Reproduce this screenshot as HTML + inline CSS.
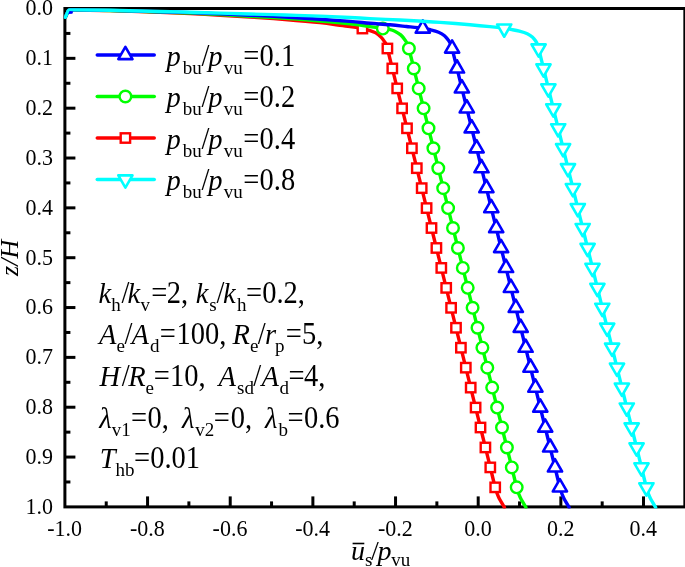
<!DOCTYPE html>
<html><head><meta charset="utf-8"><title>chart</title>
<style>html,body{margin:0;padding:0;background:#fff}body{width:685px;height:567px;overflow:hidden}</style>
</head><body>
<svg width="685" height="567" viewBox="0 0 685 567" style="display:block">
<rect x="0" y="0" width="685" height="567" fill="#fff"/>
<g stroke="#000" stroke-width="3" fill="none" stroke-linecap="butt">
<rect x="64.9" y="8.5" width="619.95" height="498.40"/>
<line x1="106.23" y1="506.9" x2="106.23" y2="501.40"/>
<line x1="147.56" y1="506.9" x2="147.56" y2="496.40"/>
<line x1="188.89" y1="506.9" x2="188.89" y2="501.40"/>
<line x1="230.22" y1="506.9" x2="230.22" y2="496.40"/>
<line x1="271.55" y1="506.9" x2="271.55" y2="501.40"/>
<line x1="312.88" y1="506.9" x2="312.88" y2="496.40"/>
<line x1="354.21" y1="506.9" x2="354.21" y2="501.40"/>
<line x1="395.54" y1="506.9" x2="395.54" y2="496.40"/>
<line x1="436.87" y1="506.9" x2="436.87" y2="501.40"/>
<line x1="478.20" y1="506.9" x2="478.20" y2="496.40"/>
<line x1="519.53" y1="506.9" x2="519.53" y2="501.40"/>
<line x1="560.86" y1="506.9" x2="560.86" y2="496.40"/>
<line x1="602.19" y1="506.9" x2="602.19" y2="501.40"/>
<line x1="643.52" y1="506.9" x2="643.52" y2="496.40"/>
<line x1="64.9" y1="33.42" x2="70.40" y2="33.42"/>
<line x1="64.9" y1="58.34" x2="75.40" y2="58.34"/>
<line x1="64.9" y1="83.26" x2="70.40" y2="83.26"/>
<line x1="64.9" y1="108.18" x2="75.40" y2="108.18"/>
<line x1="64.9" y1="133.10" x2="70.40" y2="133.10"/>
<line x1="64.9" y1="158.02" x2="75.40" y2="158.02"/>
<line x1="64.9" y1="182.94" x2="70.40" y2="182.94"/>
<line x1="64.9" y1="207.86" x2="75.40" y2="207.86"/>
<line x1="64.9" y1="232.78" x2="70.40" y2="232.78"/>
<line x1="64.9" y1="257.70" x2="75.40" y2="257.70"/>
<line x1="64.9" y1="282.62" x2="70.40" y2="282.62"/>
<line x1="64.9" y1="307.54" x2="75.40" y2="307.54"/>
<line x1="64.9" y1="332.46" x2="70.40" y2="332.46"/>
<line x1="64.9" y1="357.38" x2="75.40" y2="357.38"/>
<line x1="64.9" y1="382.30" x2="70.40" y2="382.30"/>
<line x1="64.9" y1="407.22" x2="75.40" y2="407.22"/>
<line x1="64.9" y1="432.14" x2="70.40" y2="432.14"/>
<line x1="64.9" y1="457.06" x2="75.40" y2="457.06"/>
<line x1="64.9" y1="481.98" x2="70.40" y2="481.98"/>
</g>
<g font-family="Liberation Serif, serif" font-size="22" fill="#000">
<text transform="translate(0,15.30) scale(1,1.08)" x="53.0" y="0" text-anchor="end">0.0</text>
<text transform="translate(0,65.14) scale(1,1.08)" x="53.0" y="0" text-anchor="end">0.1</text>
<text transform="translate(0,114.98) scale(1,1.08)" x="53.0" y="0" text-anchor="end">0.2</text>
<text transform="translate(0,164.82) scale(1,1.08)" x="53.0" y="0" text-anchor="end">0.3</text>
<text transform="translate(0,214.66) scale(1,1.08)" x="53.0" y="0" text-anchor="end">0.4</text>
<text transform="translate(0,264.50) scale(1,1.08)" x="53.0" y="0" text-anchor="end">0.5</text>
<text transform="translate(0,314.34) scale(1,1.08)" x="53.0" y="0" text-anchor="end">0.6</text>
<text transform="translate(0,364.18) scale(1,1.08)" x="53.0" y="0" text-anchor="end">0.7</text>
<text transform="translate(0,414.02) scale(1,1.08)" x="53.0" y="0" text-anchor="end">0.8</text>
<text transform="translate(0,463.86) scale(1,1.08)" x="53.0" y="0" text-anchor="end">0.9</text>
<text transform="translate(0,513.70) scale(1,1.08)" x="53.0" y="0" text-anchor="end">1.0</text>
<text transform="translate(0,536.2) scale(1,1.08)" x="64.70" y="0" text-anchor="middle">-1.0</text>
<text transform="translate(0,536.2) scale(1,1.08)" x="147.36" y="0" text-anchor="middle">-0.8</text>
<text transform="translate(0,536.2) scale(1,1.08)" x="230.02" y="0" text-anchor="middle">-0.6</text>
<text transform="translate(0,536.2) scale(1,1.08)" x="312.68" y="0" text-anchor="middle">-0.4</text>
<text transform="translate(0,536.2) scale(1,1.08)" x="395.34" y="0" text-anchor="middle">-0.2</text>
<text transform="translate(0,536.2) scale(1,1.08)" x="478.00" y="0" text-anchor="middle">0.0</text>
<text transform="translate(0,536.2) scale(1,1.08)" x="560.66" y="0" text-anchor="middle">0.2</text>
<text transform="translate(0,536.2) scale(1,1.08)" x="643.32" y="0" text-anchor="middle">0.4</text>
</g>
<defs><clipPath id="pc"><rect x="63.40" y="7.00" width="622.95" height="501.40"/></clipPath></defs>
<g clip-path="url(#pc)">
<path d="M65.30,17.30C65.47,16.93 65.95,15.87 66.30,15.10C66.65,14.33 67.05,13.45 67.40,12.70C67.75,11.95 68.03,11.07 68.40,10.60C68.77,10.13 68.50,10.02 69.60,9.90C70.70,9.78 68.27,9.78 75.00,9.90C81.73,10.02 95.83,10.20 110.00,10.60C124.17,11.00 144.17,11.67 160.00,12.30C175.83,12.93 190.00,13.62 205.00,14.40C220.00,15.18 236.67,16.15 250.00,17.00C263.33,17.85 273.33,18.57 285.00,19.50C296.67,20.43 310.83,21.62 320.00,22.60C329.17,23.58 335.00,24.73 340.00,25.40C345.00,26.07 346.27,26.07 350.00,26.60C353.73,27.13 359.07,27.93 362.40,28.60C365.73,29.27 367.77,29.88 370.00,30.60C372.23,31.32 373.97,31.82 375.80,32.90C377.63,33.98 379.53,35.62 381.00,37.10C382.47,38.58 383.70,40.48 384.60,41.80C385.50,43.12 385.93,43.88 386.40,45.00C386.87,46.12 386.42,44.59 387.40,48.50C388.38,52.40 390.67,61.79 392.30,68.44C393.93,75.09 395.57,81.74 397.20,88.39C398.83,95.04 400.47,101.69 402.10,108.34C403.73,114.99 405.37,121.64 407.00,128.29C408.63,134.94 410.27,141.59 411.90,148.24C413.53,154.89 415.17,161.53 416.80,168.18C418.43,174.83 420.07,181.48 421.70,188.13C423.33,194.78 424.97,201.43 426.60,208.08C428.23,214.73 429.87,221.38 431.50,228.03C433.13,234.68 434.77,241.33 436.40,247.98C438.03,254.63 439.67,261.27 441.30,267.92C442.93,274.57 444.57,281.22 446.20,287.87C447.83,294.52 449.47,301.17 451.10,307.82C452.73,314.47 454.37,321.12 456.00,327.77C457.63,334.42 459.27,341.07 460.90,347.72C462.53,354.37 464.17,361.01 465.80,367.66C467.43,374.31 469.07,380.96 470.70,387.61C472.33,394.26 473.97,400.91 475.60,407.56C477.23,414.21 478.87,420.86 480.50,427.51C482.13,434.16 483.77,440.81 485.40,447.46C487.03,454.11 488.67,460.75 490.30,467.40C491.93,474.05 493.81,482.37 495.20,487.35C496.59,492.34 497.12,494.00 498.65,497.33C500.18,500.65 503.44,505.64 504.40,507.30" fill="none" stroke="#ff0000" stroke-width="3.4" stroke-linecap="round" stroke-linejoin="round"/>
<rect x="357.70" y="23.85" width="9.4" height="9.4" fill="#fff" stroke="#ff0000" stroke-width="2.4"/>
<rect x="382.70" y="43.80" width="9.4" height="9.4" fill="#fff" stroke="#ff0000" stroke-width="2.4"/>
<rect x="387.60" y="63.74" width="9.4" height="9.4" fill="#fff" stroke="#ff0000" stroke-width="2.4"/>
<rect x="392.50" y="83.69" width="9.4" height="9.4" fill="#fff" stroke="#ff0000" stroke-width="2.4"/>
<rect x="397.40" y="103.64" width="9.4" height="9.4" fill="#fff" stroke="#ff0000" stroke-width="2.4"/>
<rect x="402.30" y="123.59" width="9.4" height="9.4" fill="#fff" stroke="#ff0000" stroke-width="2.4"/>
<rect x="407.20" y="143.54" width="9.4" height="9.4" fill="#fff" stroke="#ff0000" stroke-width="2.4"/>
<rect x="412.10" y="163.48" width="9.4" height="9.4" fill="#fff" stroke="#ff0000" stroke-width="2.4"/>
<rect x="417.00" y="183.43" width="9.4" height="9.4" fill="#fff" stroke="#ff0000" stroke-width="2.4"/>
<rect x="421.90" y="203.38" width="9.4" height="9.4" fill="#fff" stroke="#ff0000" stroke-width="2.4"/>
<rect x="426.80" y="223.33" width="9.4" height="9.4" fill="#fff" stroke="#ff0000" stroke-width="2.4"/>
<rect x="431.70" y="243.28" width="9.4" height="9.4" fill="#fff" stroke="#ff0000" stroke-width="2.4"/>
<rect x="436.60" y="263.22" width="9.4" height="9.4" fill="#fff" stroke="#ff0000" stroke-width="2.4"/>
<rect x="441.50" y="283.17" width="9.4" height="9.4" fill="#fff" stroke="#ff0000" stroke-width="2.4"/>
<rect x="446.40" y="303.12" width="9.4" height="9.4" fill="#fff" stroke="#ff0000" stroke-width="2.4"/>
<rect x="451.30" y="323.07" width="9.4" height="9.4" fill="#fff" stroke="#ff0000" stroke-width="2.4"/>
<rect x="456.20" y="343.02" width="9.4" height="9.4" fill="#fff" stroke="#ff0000" stroke-width="2.4"/>
<rect x="461.10" y="362.96" width="9.4" height="9.4" fill="#fff" stroke="#ff0000" stroke-width="2.4"/>
<rect x="466.00" y="382.91" width="9.4" height="9.4" fill="#fff" stroke="#ff0000" stroke-width="2.4"/>
<rect x="470.90" y="402.86" width="9.4" height="9.4" fill="#fff" stroke="#ff0000" stroke-width="2.4"/>
<rect x="475.80" y="422.81" width="9.4" height="9.4" fill="#fff" stroke="#ff0000" stroke-width="2.4"/>
<rect x="480.70" y="442.76" width="9.4" height="9.4" fill="#fff" stroke="#ff0000" stroke-width="2.4"/>
<rect x="485.60" y="462.70" width="9.4" height="9.4" fill="#fff" stroke="#ff0000" stroke-width="2.4"/>
<rect x="490.50" y="482.65" width="9.4" height="9.4" fill="#fff" stroke="#ff0000" stroke-width="2.4"/>
<path d="M65.30,17.30C65.47,16.93 65.95,15.87 66.30,15.10C66.65,14.33 67.05,13.45 67.40,12.70C67.75,11.95 68.03,11.07 68.40,10.60C68.77,10.13 68.50,10.02 69.60,9.90C70.70,9.78 68.27,9.80 75.00,9.90C81.73,10.00 95.83,10.15 110.00,10.50C124.17,10.85 144.17,11.45 160.00,12.00C175.83,12.55 190.00,13.10 205.00,13.80C220.00,14.50 236.67,15.45 250.00,16.20C263.33,16.95 273.33,17.50 285.00,18.30C296.67,19.10 309.17,20.08 320.00,21.00C330.83,21.92 341.67,22.87 350.00,23.80C358.33,24.73 364.53,25.83 370.00,26.60C375.47,27.37 379.63,27.93 382.80,28.40C385.97,28.87 387.00,28.93 389.00,29.40C391.00,29.87 392.85,30.28 394.80,31.20C396.75,32.12 399.00,33.43 400.70,34.90C402.40,36.37 403.85,38.42 405.00,40.00C406.15,41.58 406.95,42.98 407.60,44.40C408.25,45.82 407.87,44.49 408.90,48.50C409.93,52.50 412.17,61.79 413.80,68.44C415.43,75.09 417.07,81.74 418.70,88.39C420.33,95.04 421.97,101.69 423.60,108.34C425.23,114.99 426.87,121.64 428.50,128.29C430.13,134.94 431.77,141.59 433.40,148.24C435.03,154.89 436.67,161.53 438.30,168.18C439.93,174.83 441.57,181.48 443.20,188.13C444.83,194.78 446.47,201.43 448.10,208.08C449.73,214.73 451.37,221.38 453.00,228.03C454.63,234.68 456.27,241.33 457.90,247.98C459.53,254.63 461.17,261.27 462.80,267.92C464.43,274.57 466.07,281.22 467.70,287.87C469.33,294.52 470.97,301.17 472.60,307.82C474.23,314.47 475.87,321.12 477.50,327.77C479.13,334.42 480.77,341.07 482.40,347.72C484.03,354.37 485.67,361.01 487.30,367.66C488.93,374.31 490.57,380.96 492.20,387.61C493.83,394.26 495.47,400.91 497.10,407.56C498.73,414.21 500.37,420.86 502.00,427.51C503.63,434.16 505.27,440.81 506.90,447.46C508.53,454.11 510.17,460.75 511.80,467.40C513.43,474.05 515.31,482.37 516.70,487.35C518.09,492.34 518.62,494.00 520.15,497.33C521.68,500.65 524.94,505.64 525.90,507.30" fill="none" stroke="#00ff00" stroke-width="3.4" stroke-linecap="round" stroke-linejoin="round"/>
<circle cx="382.80" cy="28.55" r="5.8" fill="#fff" stroke="#00ff00" stroke-width="2.4"/>
<circle cx="408.90" cy="48.50" r="5.8" fill="#fff" stroke="#00ff00" stroke-width="2.4"/>
<circle cx="413.80" cy="68.44" r="5.8" fill="#fff" stroke="#00ff00" stroke-width="2.4"/>
<circle cx="418.70" cy="88.39" r="5.8" fill="#fff" stroke="#00ff00" stroke-width="2.4"/>
<circle cx="423.60" cy="108.34" r="5.8" fill="#fff" stroke="#00ff00" stroke-width="2.4"/>
<circle cx="428.50" cy="128.29" r="5.8" fill="#fff" stroke="#00ff00" stroke-width="2.4"/>
<circle cx="433.40" cy="148.24" r="5.8" fill="#fff" stroke="#00ff00" stroke-width="2.4"/>
<circle cx="438.30" cy="168.18" r="5.8" fill="#fff" stroke="#00ff00" stroke-width="2.4"/>
<circle cx="443.20" cy="188.13" r="5.8" fill="#fff" stroke="#00ff00" stroke-width="2.4"/>
<circle cx="448.10" cy="208.08" r="5.8" fill="#fff" stroke="#00ff00" stroke-width="2.4"/>
<circle cx="453.00" cy="228.03" r="5.8" fill="#fff" stroke="#00ff00" stroke-width="2.4"/>
<circle cx="457.90" cy="247.98" r="5.8" fill="#fff" stroke="#00ff00" stroke-width="2.4"/>
<circle cx="462.80" cy="267.92" r="5.8" fill="#fff" stroke="#00ff00" stroke-width="2.4"/>
<circle cx="467.70" cy="287.87" r="5.8" fill="#fff" stroke="#00ff00" stroke-width="2.4"/>
<circle cx="472.60" cy="307.82" r="5.8" fill="#fff" stroke="#00ff00" stroke-width="2.4"/>
<circle cx="477.50" cy="327.77" r="5.8" fill="#fff" stroke="#00ff00" stroke-width="2.4"/>
<circle cx="482.40" cy="347.72" r="5.8" fill="#fff" stroke="#00ff00" stroke-width="2.4"/>
<circle cx="487.30" cy="367.66" r="5.8" fill="#fff" stroke="#00ff00" stroke-width="2.4"/>
<circle cx="492.20" cy="387.61" r="5.8" fill="#fff" stroke="#00ff00" stroke-width="2.4"/>
<circle cx="497.10" cy="407.56" r="5.8" fill="#fff" stroke="#00ff00" stroke-width="2.4"/>
<circle cx="502.00" cy="427.51" r="5.8" fill="#fff" stroke="#00ff00" stroke-width="2.4"/>
<circle cx="506.90" cy="447.46" r="5.8" fill="#fff" stroke="#00ff00" stroke-width="2.4"/>
<circle cx="511.80" cy="467.40" r="5.8" fill="#fff" stroke="#00ff00" stroke-width="2.4"/>
<circle cx="516.70" cy="487.35" r="5.8" fill="#fff" stroke="#00ff00" stroke-width="2.4"/>
<path d="M65.30,17.30C65.47,16.93 65.95,15.87 66.30,15.10C66.65,14.33 67.05,13.45 67.40,12.70C67.75,11.95 68.03,11.07 68.40,10.60C68.77,10.13 68.50,10.02 69.60,9.90C70.70,9.78 68.27,9.82 75.00,9.90C81.73,9.98 95.83,10.10 110.00,10.40C124.17,10.70 144.17,11.23 160.00,11.70C175.83,12.17 190.00,12.62 205.00,13.20C220.00,13.78 236.67,14.57 250.00,15.20C263.33,15.83 273.33,16.33 285.00,17.00C296.67,17.67 309.17,18.47 320.00,19.20C330.83,19.93 341.67,20.73 350.00,21.40C358.33,22.07 363.33,22.63 370.00,23.20C376.67,23.77 383.92,24.25 390.00,24.80C396.08,25.35 401.03,25.92 406.50,26.50C411.97,27.08 418.78,27.75 422.80,28.30C426.82,28.85 427.97,29.15 430.60,29.80C433.23,30.45 436.28,31.22 438.60,32.20C440.92,33.18 442.80,34.27 444.50,35.70C446.20,37.13 447.72,39.25 448.80,40.80C449.88,42.35 450.45,43.72 451.00,45.00C451.55,46.28 451.10,44.59 452.10,48.50C453.10,52.40 455.37,61.79 457.00,68.44C458.63,75.09 460.27,81.74 461.90,88.39C463.53,95.04 465.17,101.69 466.80,108.34C468.43,114.99 470.07,121.64 471.70,128.29C473.33,134.94 474.97,141.59 476.60,148.24C478.23,154.89 479.87,161.53 481.50,168.18C483.13,174.83 484.77,181.48 486.40,188.13C488.03,194.78 489.67,201.43 491.30,208.08C492.93,214.73 494.57,221.38 496.20,228.03C497.83,234.68 499.47,241.33 501.10,247.98C502.73,254.63 504.37,261.27 506.00,267.92C507.63,274.57 509.27,281.22 510.90,287.87C512.53,294.52 514.17,301.17 515.80,307.82C517.43,314.47 519.07,321.12 520.70,327.77C522.33,334.42 523.97,341.07 525.60,347.72C527.23,354.37 528.87,361.01 530.50,367.66C532.13,374.31 533.77,380.96 535.40,387.61C537.03,394.26 538.67,400.91 540.30,407.56C541.93,414.21 543.57,420.86 545.20,427.51C546.83,434.16 548.47,440.81 550.10,447.46C551.73,454.11 553.37,460.75 555.00,467.40C556.63,474.05 558.51,482.37 559.90,487.35C561.29,492.34 561.82,494.00 563.35,497.33C564.88,500.65 568.14,505.64 569.10,507.30" fill="none" stroke="#0000ff" stroke-width="3.4" stroke-linecap="round" stroke-linejoin="round"/>
<path d="M422.80,20.35L429.90,32.65L415.70,32.65Z" fill="#fff" stroke="#0000ff" stroke-width="2.6" stroke-linejoin="round"/>
<path d="M452.10,40.30L459.20,52.60L445.00,52.60Z" fill="#fff" stroke="#0000ff" stroke-width="2.6" stroke-linejoin="round"/>
<path d="M457.00,60.24L464.10,72.54L449.90,72.54Z" fill="#fff" stroke="#0000ff" stroke-width="2.6" stroke-linejoin="round"/>
<path d="M461.90,80.19L469.00,92.49L454.80,92.49Z" fill="#fff" stroke="#0000ff" stroke-width="2.6" stroke-linejoin="round"/>
<path d="M466.80,100.14L473.90,112.44L459.70,112.44Z" fill="#fff" stroke="#0000ff" stroke-width="2.6" stroke-linejoin="round"/>
<path d="M471.70,120.09L478.80,132.39L464.60,132.39Z" fill="#fff" stroke="#0000ff" stroke-width="2.6" stroke-linejoin="round"/>
<path d="M476.60,140.04L483.70,152.34L469.50,152.34Z" fill="#fff" stroke="#0000ff" stroke-width="2.6" stroke-linejoin="round"/>
<path d="M481.50,159.98L488.60,172.28L474.40,172.28Z" fill="#fff" stroke="#0000ff" stroke-width="2.6" stroke-linejoin="round"/>
<path d="M486.40,179.93L493.50,192.23L479.30,192.23Z" fill="#fff" stroke="#0000ff" stroke-width="2.6" stroke-linejoin="round"/>
<path d="M491.30,199.88L498.40,212.18L484.20,212.18Z" fill="#fff" stroke="#0000ff" stroke-width="2.6" stroke-linejoin="round"/>
<path d="M496.20,219.83L503.30,232.13L489.10,232.13Z" fill="#fff" stroke="#0000ff" stroke-width="2.6" stroke-linejoin="round"/>
<path d="M501.10,239.78L508.20,252.08L494.00,252.08Z" fill="#fff" stroke="#0000ff" stroke-width="2.6" stroke-linejoin="round"/>
<path d="M506.00,259.72L513.10,272.02L498.90,272.02Z" fill="#fff" stroke="#0000ff" stroke-width="2.6" stroke-linejoin="round"/>
<path d="M510.90,279.67L518.00,291.97L503.80,291.97Z" fill="#fff" stroke="#0000ff" stroke-width="2.6" stroke-linejoin="round"/>
<path d="M515.80,299.62L522.90,311.92L508.70,311.92Z" fill="#fff" stroke="#0000ff" stroke-width="2.6" stroke-linejoin="round"/>
<path d="M520.70,319.57L527.80,331.87L513.60,331.87Z" fill="#fff" stroke="#0000ff" stroke-width="2.6" stroke-linejoin="round"/>
<path d="M525.60,339.52L532.70,351.82L518.50,351.82Z" fill="#fff" stroke="#0000ff" stroke-width="2.6" stroke-linejoin="round"/>
<path d="M530.50,359.46L537.60,371.76L523.40,371.76Z" fill="#fff" stroke="#0000ff" stroke-width="2.6" stroke-linejoin="round"/>
<path d="M535.40,379.41L542.50,391.71L528.30,391.71Z" fill="#fff" stroke="#0000ff" stroke-width="2.6" stroke-linejoin="round"/>
<path d="M540.30,399.36L547.40,411.66L533.20,411.66Z" fill="#fff" stroke="#0000ff" stroke-width="2.6" stroke-linejoin="round"/>
<path d="M545.20,419.31L552.30,431.61L538.10,431.61Z" fill="#fff" stroke="#0000ff" stroke-width="2.6" stroke-linejoin="round"/>
<path d="M550.10,439.26L557.20,451.56L543.00,451.56Z" fill="#fff" stroke="#0000ff" stroke-width="2.6" stroke-linejoin="round"/>
<path d="M555.00,459.20L562.10,471.50L547.90,471.50Z" fill="#fff" stroke="#0000ff" stroke-width="2.6" stroke-linejoin="round"/>
<path d="M559.90,479.15L567.00,491.45L552.80,491.45Z" fill="#fff" stroke="#0000ff" stroke-width="2.6" stroke-linejoin="round"/>
<path d="M65.30,17.30C65.47,16.93 65.95,15.87 66.30,15.10C66.65,14.33 67.05,13.45 67.40,12.70C67.75,11.95 68.03,11.07 68.40,10.60C68.77,10.13 68.50,10.02 69.60,9.90C70.70,9.78 68.27,9.83 75.00,9.90C81.73,9.97 95.83,10.03 110.00,10.30C124.17,10.57 144.17,11.10 160.00,11.50C175.83,11.90 190.00,12.28 205.00,12.70C220.00,13.12 236.67,13.62 250.00,14.00C263.33,14.38 273.33,14.65 285.00,15.00C296.67,15.35 309.17,15.68 320.00,16.10C330.83,16.52 341.67,17.08 350.00,17.50C358.33,17.92 361.67,18.18 370.00,18.60C378.33,19.02 391.17,19.55 400.00,20.00C408.83,20.45 416.33,20.90 423.00,21.30C429.67,21.70 432.17,21.83 440.00,22.40C447.83,22.97 461.67,24.00 470.00,24.70C478.33,25.40 484.30,26.00 490.00,26.60C495.70,27.20 500.53,27.80 504.20,28.30C507.87,28.80 509.47,29.12 512.00,29.60C514.53,30.08 516.85,30.50 519.40,31.20C521.95,31.90 525.10,32.80 527.30,33.80C529.50,34.80 531.18,35.97 532.60,37.20C534.02,38.43 534.97,39.93 535.80,41.20C536.63,42.47 537.13,43.58 537.60,44.80C538.07,46.02 537.62,44.56 538.60,48.50C539.58,52.44 541.87,61.79 543.50,68.44C545.13,75.09 546.77,81.74 548.40,88.39C550.03,95.04 551.67,101.69 553.30,108.34C554.93,114.99 556.57,121.64 558.20,128.29C559.83,134.94 561.47,141.59 563.10,148.24C564.73,154.89 566.37,161.53 568.00,168.18C569.63,174.83 571.27,181.48 572.90,188.13C574.53,194.78 576.17,201.43 577.80,208.08C579.43,214.73 581.07,221.38 582.70,228.03C584.33,234.68 585.97,241.33 587.60,247.98C589.23,254.63 590.87,261.27 592.50,267.92C594.13,274.57 595.77,281.22 597.40,287.87C599.03,294.52 600.67,301.17 602.30,307.82C603.93,314.47 605.57,321.12 607.20,327.77C608.83,334.42 610.47,341.07 612.10,347.72C613.73,354.37 615.37,361.01 617.00,367.66C618.63,374.31 620.27,380.96 621.90,387.61C623.53,394.26 625.17,400.91 626.80,407.56C628.43,414.21 630.07,420.86 631.70,427.51C633.33,434.16 634.97,440.81 636.60,447.46C638.23,454.11 639.87,460.75 641.50,467.40C643.13,474.05 645.01,482.37 646.40,487.35C647.79,492.34 648.32,494.00 649.85,497.33C651.38,500.65 654.64,505.64 655.60,507.30" fill="none" stroke="#00ffff" stroke-width="3.4" stroke-linecap="round" stroke-linejoin="round"/>
<path d="M504.20,36.75L511.30,24.45L497.10,24.45Z" fill="#fff" stroke="#00ffff" stroke-width="2.6" stroke-linejoin="round"/>
<path d="M538.60,56.70L545.70,44.40L531.50,44.40Z" fill="#fff" stroke="#00ffff" stroke-width="2.6" stroke-linejoin="round"/>
<path d="M543.50,76.64L550.60,64.34L536.40,64.34Z" fill="#fff" stroke="#00ffff" stroke-width="2.6" stroke-linejoin="round"/>
<path d="M548.40,96.59L555.50,84.29L541.30,84.29Z" fill="#fff" stroke="#00ffff" stroke-width="2.6" stroke-linejoin="round"/>
<path d="M553.30,116.54L560.40,104.24L546.20,104.24Z" fill="#fff" stroke="#00ffff" stroke-width="2.6" stroke-linejoin="round"/>
<path d="M558.20,136.49L565.30,124.19L551.10,124.19Z" fill="#fff" stroke="#00ffff" stroke-width="2.6" stroke-linejoin="round"/>
<path d="M563.10,156.44L570.20,144.14L556.00,144.14Z" fill="#fff" stroke="#00ffff" stroke-width="2.6" stroke-linejoin="round"/>
<path d="M568.00,176.38L575.10,164.08L560.90,164.08Z" fill="#fff" stroke="#00ffff" stroke-width="2.6" stroke-linejoin="round"/>
<path d="M572.90,196.33L580.00,184.03L565.80,184.03Z" fill="#fff" stroke="#00ffff" stroke-width="2.6" stroke-linejoin="round"/>
<path d="M577.80,216.28L584.90,203.98L570.70,203.98Z" fill="#fff" stroke="#00ffff" stroke-width="2.6" stroke-linejoin="round"/>
<path d="M582.70,236.23L589.80,223.93L575.60,223.93Z" fill="#fff" stroke="#00ffff" stroke-width="2.6" stroke-linejoin="round"/>
<path d="M587.60,256.18L594.70,243.88L580.50,243.88Z" fill="#fff" stroke="#00ffff" stroke-width="2.6" stroke-linejoin="round"/>
<path d="M592.50,276.12L599.60,263.82L585.40,263.82Z" fill="#fff" stroke="#00ffff" stroke-width="2.6" stroke-linejoin="round"/>
<path d="M597.40,296.07L604.50,283.77L590.30,283.77Z" fill="#fff" stroke="#00ffff" stroke-width="2.6" stroke-linejoin="round"/>
<path d="M602.30,316.02L609.40,303.72L595.20,303.72Z" fill="#fff" stroke="#00ffff" stroke-width="2.6" stroke-linejoin="round"/>
<path d="M607.20,335.97L614.30,323.67L600.10,323.67Z" fill="#fff" stroke="#00ffff" stroke-width="2.6" stroke-linejoin="round"/>
<path d="M612.10,355.92L619.20,343.62L605.00,343.62Z" fill="#fff" stroke="#00ffff" stroke-width="2.6" stroke-linejoin="round"/>
<path d="M617.00,375.86L624.10,363.56L609.90,363.56Z" fill="#fff" stroke="#00ffff" stroke-width="2.6" stroke-linejoin="round"/>
<path d="M621.90,395.81L629.00,383.51L614.80,383.51Z" fill="#fff" stroke="#00ffff" stroke-width="2.6" stroke-linejoin="round"/>
<path d="M626.80,415.76L633.90,403.46L619.70,403.46Z" fill="#fff" stroke="#00ffff" stroke-width="2.6" stroke-linejoin="round"/>
<path d="M631.70,435.71L638.80,423.41L624.60,423.41Z" fill="#fff" stroke="#00ffff" stroke-width="2.6" stroke-linejoin="round"/>
<path d="M636.60,455.66L643.70,443.36L629.50,443.36Z" fill="#fff" stroke="#00ffff" stroke-width="2.6" stroke-linejoin="round"/>
<path d="M641.50,475.60L648.60,463.30L634.40,463.30Z" fill="#fff" stroke="#00ffff" stroke-width="2.6" stroke-linejoin="round"/>
<path d="M646.40,495.55L653.50,483.25L639.30,483.25Z" fill="#fff" stroke="#00ffff" stroke-width="2.6" stroke-linejoin="round"/>
<path d="M68.3,14L69.5,11L73.3,11.5L72.3,13.8Z" fill="#0000ff"/>
</g>
<line x1="97.3" y1="55.0" x2="154.2" y2="55.0" stroke="#0000ff" stroke-width="3.6" stroke-linecap="round"/>
<path d="M125.40,46.80L132.50,59.10L118.30,59.10Z" fill="#fff" stroke="#0000ff" stroke-width="2.6" stroke-linejoin="round"/>
<g font-family="Liberation Serif, serif" fill="#000"><text transform="translate(166.5,65.50) scale(1,1.03)" font-style="italic" font-size="28.5">p</text><text transform="translate(182.7,73.50) scale(1,1.0)" font-size="19">bu</text><text transform="translate(201.5,65.50) scale(1,1.08)" font-size="28.5">/</text><text transform="translate(208.3,65.50) scale(1,1.03)" font-style="italic" font-size="28.5">p</text><text transform="translate(223.8,73.50) scale(1,1.0)" font-size="19">vu</text><text transform="translate(243.2,65.50) scale(1,1.08)" font-size="28.5">=</text><text transform="translate(259.6,65.50) scale(1,1.08)" font-size="28.5">0.1</text></g>
<line x1="97.3" y1="96.5" x2="154.2" y2="96.5" stroke="#00ff00" stroke-width="3.6" stroke-linecap="round"/>
<circle cx="125.40" cy="96.50" r="5.8" fill="#fff" stroke="#00ff00" stroke-width="2.4"/>
<g font-family="Liberation Serif, serif" fill="#000"><text transform="translate(166.5,107.00) scale(1,1.03)" font-style="italic" font-size="28.5">p</text><text transform="translate(182.7,115.00) scale(1,1.0)" font-size="19">bu</text><text transform="translate(201.5,107.00) scale(1,1.08)" font-size="28.5">/</text><text transform="translate(208.3,107.00) scale(1,1.03)" font-style="italic" font-size="28.5">p</text><text transform="translate(223.8,115.00) scale(1,1.0)" font-size="19">vu</text><text transform="translate(243.2,107.00) scale(1,1.08)" font-size="28.5">=</text><text transform="translate(259.6,107.00) scale(1,1.08)" font-size="28.5">0.2</text></g>
<line x1="97.3" y1="138.0" x2="154.2" y2="138.0" stroke="#ff0000" stroke-width="3.6" stroke-linecap="round"/>
<rect x="120.70" y="133.30" width="9.4" height="9.4" fill="#fff" stroke="#ff0000" stroke-width="2.4"/>
<g font-family="Liberation Serif, serif" fill="#000"><text transform="translate(166.5,148.50) scale(1,1.03)" font-style="italic" font-size="28.5">p</text><text transform="translate(182.7,156.50) scale(1,1.0)" font-size="19">bu</text><text transform="translate(201.5,148.50) scale(1,1.08)" font-size="28.5">/</text><text transform="translate(208.3,148.50) scale(1,1.03)" font-style="italic" font-size="28.5">p</text><text transform="translate(223.8,156.50) scale(1,1.0)" font-size="19">vu</text><text transform="translate(243.2,148.50) scale(1,1.08)" font-size="28.5">=</text><text transform="translate(259.6,148.50) scale(1,1.08)" font-size="28.5">0.4</text></g>
<line x1="97.3" y1="179.5" x2="154.2" y2="179.5" stroke="#00ffff" stroke-width="3.6" stroke-linecap="round"/>
<path d="M125.40,187.70L132.50,175.40L118.30,175.40Z" fill="#fff" stroke="#00ffff" stroke-width="2.6" stroke-linejoin="round"/>
<g font-family="Liberation Serif, serif" fill="#000"><text transform="translate(166.5,190.00) scale(1,1.03)" font-style="italic" font-size="28.5">p</text><text transform="translate(182.7,198.00) scale(1,1.0)" font-size="19">bu</text><text transform="translate(201.5,190.00) scale(1,1.08)" font-size="28.5">/</text><text transform="translate(208.3,190.00) scale(1,1.03)" font-style="italic" font-size="28.5">p</text><text transform="translate(223.8,198.00) scale(1,1.0)" font-size="19">vu</text><text transform="translate(243.2,190.00) scale(1,1.08)" font-size="28.5">=</text><text transform="translate(259.6,190.00) scale(1,1.08)" font-size="28.5">0.8</text></g>
<g font-family="Liberation Serif, serif" fill="#000"><text transform="translate(98.5,302.70) scale(1,1.03)" font-style="italic" font-size="28.5">k</text><text transform="translate(111.3,310.70) scale(1,1.0)" font-size="19">h</text><text transform="translate(121.5,302.70) scale(1,1.08)" font-size="28.5">/</text><text transform="translate(127.5,302.70) scale(1,1.03)" font-style="italic" font-size="28.5">k</text><text transform="translate(140.5,310.70) scale(1,1.0)" font-size="19">v</text><text transform="translate(151.2,302.70) scale(1,1.08)" font-size="28.5">=</text><text transform="translate(166.8,302.70) scale(1,1.08)" font-size="28.5">2,</text><text transform="translate(195.8,302.70) scale(1,1.03)" font-style="italic" font-size="28.5">k</text><text transform="translate(209.2,310.70) scale(1,1.0)" font-size="19">s</text><text transform="translate(216.5,302.70) scale(1,1.08)" font-size="28.5">/</text><text transform="translate(223,302.70) scale(1,1.03)" font-style="italic" font-size="28.5">k</text><text transform="translate(237,310.70) scale(1,1.0)" font-size="19">h</text><text transform="translate(246,302.70) scale(1,1.08)" font-size="28.5">=</text><text transform="translate(262.2,302.70) scale(1,1.08)" font-size="28.5">0.2,</text></g>
<g font-family="Liberation Serif, serif" fill="#000"><text transform="translate(99.0,344.30) scale(1,1.03)" font-style="italic" font-size="28.5">A</text><text transform="translate(116.6,352.30) scale(1,1.0)" font-size="19">e</text><text transform="translate(124.5,344.30) scale(1,1.08)" font-size="28.5">/</text><text transform="translate(131.5,344.30) scale(1,1.03)" font-style="italic" font-size="28.5">A</text><text transform="translate(150,352.30) scale(1,1.0)" font-size="19">d</text><text transform="translate(159.8,344.30) scale(1,1.08)" font-size="28.5">=</text><text transform="translate(176.5,344.30) scale(1,1.08)" font-size="28.5">100,</text><text transform="translate(232.5,344.30) scale(1,1.03)" font-style="italic" font-size="28.5">R</text><text transform="translate(250,352.30) scale(1,1.0)" font-size="19">e</text><text transform="translate(257.8,344.30) scale(1,1.08)" font-size="28.5">/</text><text transform="translate(265,344.30) scale(1,1.03)" font-style="italic" font-size="28.5">r</text><text transform="translate(275,352.30) scale(1,1.0)" font-size="19">p</text><text transform="translate(285.8,344.30) scale(1,1.08)" font-size="28.5">=</text><text transform="translate(302,344.30) scale(1,1.08)" font-size="28.5">5,</text></g>
<g font-family="Liberation Serif, serif" fill="#000"><text transform="translate(99.5,385.60) scale(1,1.03)" font-style="italic" font-size="28.5">H</text><text transform="translate(121.8,385.60) scale(1,1.08)" font-size="28.5">/</text><text transform="translate(128.3,385.60) scale(1,1.03)" font-style="italic" font-size="28.5">R</text><text transform="translate(145.6,393.60) scale(1,1.0)" font-size="19">e</text><text transform="translate(153.7,385.60) scale(1,1.08)" font-size="28.5">=</text><text transform="translate(170,385.60) scale(1,1.08)" font-size="28.5">10,</text><text transform="translate(218.5,385.60) scale(1,1.03)" font-style="italic" font-size="28.5">A</text><text transform="translate(237,393.60) scale(1,1.0)" font-size="19">sd</text><text transform="translate(253.2,385.60) scale(1,1.08)" font-size="28.5">/</text><text transform="translate(261.5,385.60) scale(1,1.03)" font-style="italic" font-size="28.5">A</text><text transform="translate(279.5,393.60) scale(1,1.0)" font-size="19">d</text><text transform="translate(288.4,385.60) scale(1,1.08)" font-size="28.5">=</text><text transform="translate(304,385.60) scale(1,1.08)" font-size="28.5">4,</text></g>
<g font-family="Liberation Serif, serif" fill="#000"><text transform="translate(99.3,427.50) scale(1,1.03)" font-style="italic" font-size="28.5">λ</text><text transform="translate(111.8,435.50) scale(1,1.0)" font-size="19">v1</text><text transform="translate(131,427.50) scale(1,1.08)" font-size="28.5">=</text><text transform="translate(147.5,427.50) scale(1,1.08)" font-size="28.5">0,</text><text transform="translate(182,427.50) scale(1,1.03)" font-style="italic" font-size="28.5">λ</text><text transform="translate(195.3,435.50) scale(1,1.0)" font-size="19">v2</text><text transform="translate(213.8,427.50) scale(1,1.08)" font-size="28.5">=</text><text transform="translate(230.7,427.50) scale(1,1.08)" font-size="28.5">0,</text><text transform="translate(265,427.50) scale(1,1.03)" font-style="italic" font-size="28.5">λ</text><text transform="translate(278.4,435.50) scale(1,1.0)" font-size="19">b</text><text transform="translate(287.4,427.50) scale(1,1.08)" font-size="28.5">=</text><text transform="translate(303.9,427.50) scale(1,1.08)" font-size="28.5">0.6</text></g>
<g font-family="Liberation Serif, serif" fill="#000"><text transform="translate(99.8,468.30) scale(1,1.03)" font-style="italic" font-size="28.5">T</text><text transform="translate(115.6,476.30) scale(1,1.0)" font-size="19">hb</text><text transform="translate(134,468.30) scale(1,1.08)" font-size="28.5">=</text><text transform="translate(150.2,468.30) scale(1,1.08)" font-size="28.5">0.01</text></g>
<text font-family="Liberation Serif, serif" font-size="26" fill="#000" font-style="italic" transform="translate(18.0,275.9) rotate(-90)">z/H</text>
<text font-family="Liberation Serif, serif" font-size="28" fill="#000" transform="translate(0,559.8) scale(1,1.0)" y="0"><tspan x="351" font-style="italic">u</tspan><tspan x="365" dy="6.0" font-size="19">s</tspan><tspan x="371" dy="-6.0">/</tspan><tspan x="377.5" font-style="italic">p</tspan><tspan x="391.3" dy="6.0" font-size="19">vu</tspan></text>
<line x1="352.6" y1="543.5" x2="364.3" y2="543.5" stroke="#000" stroke-width="1.6"/>
</svg>
</body></html>
